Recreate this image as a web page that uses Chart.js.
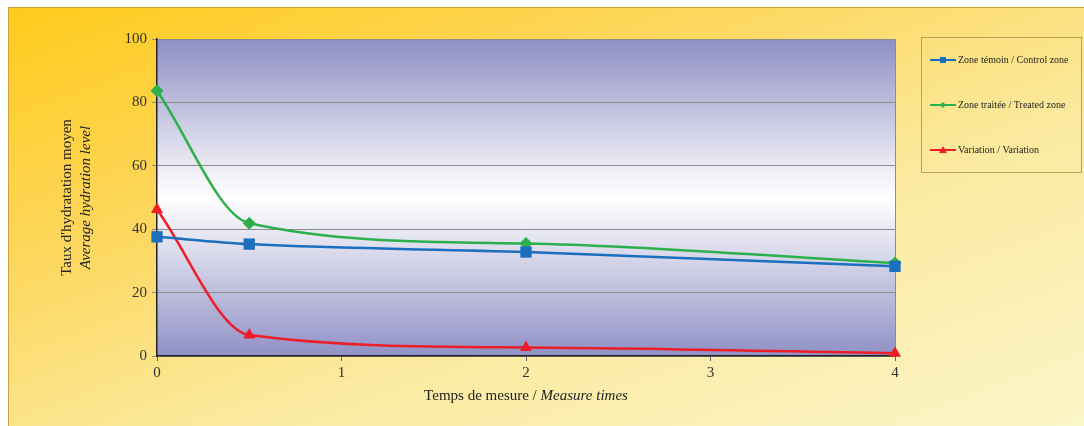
<!DOCTYPE html>
<html>
<head>
<meta charset="utf-8">
<script src="https://cdn.jsdelivr.net/npm/chart.js@4.4.1/dist/chart.umd.min.js"></script>
<style>
  html, body { margin: 0; padding: 0; background: #fff; }
  #cadre {
    position: absolute; left: 8px; top: 7px; width: 1076px; height: 419px;
    border-left: 1px solid #c9a43c; border-top: 1px solid #c9a43c;
    box-sizing: border-box;
    background: linear-gradient(160deg, #ffcb1c 0%, #fdd659 30%, #fbeaa0 62%, #fbf6c8 100%);
  }
  #zone { position: absolute; left: 0; top: 0; width: 1084px; height: 426px; }
</style>
</head>
<body>
<div id="cadre"></div>
<div id="zone"><canvas id="graficoHydratation" width="1084" height="426"></canvas></div>
<script>
// Données
const temps = [0, 0.5, 2, 4];
const zoneTemoin = [37.6, 35.3, 32.8, 28.3];
const zoneTraitee = [83.7, 41.9, 35.5, 29.3];
const variation = [46.2, 6.6, 2.7, 0.9];
const ticksY = [0, 20, 40, 60, 80, 100];
const ticksX = [0, 1, 2, 3, 4];

const libelles = ['Zone témoin / Control zone', 'Zone traitée / Treated zone', 'Variation / Variation'];
const couleurs = ['#1b6fbe', '#2bb04c', '#ee1d26'];
const formes = ['rect', 'rectRot', 'triangle'];

function points(valeurs) {
  return temps.map((t, i) => ({ x: t, y: valeurs[i] }));
}

const POLICE = '"Liberation Serif", "DejaVu Serif", serif';

// Fond dégradé de la zone de tracé
const fondZone = {
  id: 'fondZone',
  beforeDraw(chart) {
    const { ctx, chartArea: a } = chart;
    const g = ctx.createLinearGradient(0, a.top, 0, a.bottom);
    g.addColorStop(0, '#8e8fc4');
    g.addColorStop(0.38, '#e6e6f2');
    g.addColorStop(0.5, '#ffffff');
    g.addColorStop(0.62, '#e6e6f2');
    g.addColorStop(1, '#9091c6');
    ctx.save();
    ctx.fillStyle = g;
    ctx.fillRect(a.left, a.top, a.right - a.left, a.bottom - a.top);
    ctx.strokeStyle = '#8c8c8c';
    ctx.lineWidth = 1;
    ctx.beginPath();
    ctx.moveTo(a.left, a.top + 0.5);
    ctx.lineTo(a.right + 0.5, a.top + 0.5);
    ctx.lineTo(a.right + 0.5, a.bottom);
    ctx.stroke();
    ctx.restore();
  }
};

// Titres des axes (mélange romain / italique) et légende encadrée
const titresEtLegende = {
  id: 'titresEtLegende',
  afterDraw(chart) {
    const { ctx, chartArea: a } = chart;
    ctx.save();
    ctx.fillStyle = '#222';
    ctx.textBaseline = 'middle';

    // titre axe X
    const p1 = 'Temps de mesure / ';
    const p2 = 'Measure times';
    ctx.font = '15px ' + POLICE;
    const w1 = ctx.measureText(p1).width;
    ctx.font = 'italic 15px ' + POLICE;
    const w2 = ctx.measureText(p2).width;
    let x0 = (a.left + a.right) / 2 - (w1 + w2) / 2;
    ctx.textAlign = 'left';
    ctx.font = '15px ' + POLICE;
    ctx.fillText(p1, x0, 396);
    ctx.font = 'italic 15px ' + POLICE;
    ctx.fillText(p2, x0 + w1, 396);

    // titre axe Y
    const cy = (a.top + a.bottom) / 2;
    ctx.translate(0, cy);
    ctx.rotate(-Math.PI / 2);
    ctx.textAlign = 'center';
    ctx.font = '15px ' + POLICE;
    ctx.fillText("Taux d'hydratation moyen", 0, 67);
    ctx.font = 'italic 15px ' + POLICE;
    ctx.fillText('Average hydration level', 0, 86);
    ctx.setTransform(1, 0, 0, 1, 0, 0);

    // légende
    ctx.strokeStyle = '#b9a25a';
    ctx.lineWidth = 1;
    ctx.strokeRect(921.5, 37.5, 160, 135);
    const ys = [60, 105, 150];
    chart.data.datasets.forEach((ds, i) => {
      const y = ys[i];
      ctx.strokeStyle = ds.borderColor;
      ctx.lineWidth = 2;
      ctx.beginPath();
      ctx.moveTo(930, y);
      ctx.lineTo(956, y);
      ctx.stroke();
      ctx.fillStyle = ds.borderColor;
      ctx.beginPath();
      if (i === 0) {
        ctx.rect(940, y - 3, 6, 6);
      } else if (i === 1) {
        ctx.moveTo(943, y - 3); ctx.lineTo(946, y); ctx.lineTo(943, y + 3); ctx.lineTo(940, y);
      } else {
        ctx.moveTo(943, y - 4); ctx.lineTo(947, y + 3); ctx.lineTo(939, y + 3);
      }
      ctx.closePath();
      ctx.fill();
      ctx.fillStyle = '#222';
      ctx.font = '10px ' + POLICE;
      ctx.textAlign = 'left';
      ctx.fillText(ds.label, 958, y + 0.5);
    });
    ctx.restore();
  }
};

const series = [zoneTemoin, zoneTraitee, variation];

new Chart(document.getElementById('graficoHydratation').getContext('2d'), {
  type: 'line',
  data: {
    datasets: series.map((valeurs, i) => ({
      label: libelles[i],
      data: points(valeurs),
      borderColor: couleurs[i],
      backgroundColor: couleurs[i],
      borderWidth: 2.5,
      cubicInterpolationMode: 'monotone',
      pointStyle: formes[i],
      pointRadius: [8, 6.5, 7][i],
      pointBorderWidth: 0,
      clip: false
    }))
  },
  options: {
    responsive: false,
    animation: false,
    layout: { padding: { top: 39, right: 189, left: 0, bottom: 0 } },
    plugins: {
      legend: { display: false },
      tooltip: { enabled: false }
    },
    scales: {
      x: {
        type: 'linear',
        min: 0,
        max: 4,
        afterFit(scale) { scale.height = 70; },
        afterBuildTicks(scale) { scale.ticks = ticksX.map(v => ({ value: v })); },
        grid: { drawOnChartArea: false, drawTicks: true, tickLength: 5, color: '#666' },
        border: { color: '#222', width: 1.5 },
        ticks: { font: { family: POLICE, size: 15 }, color: '#333', padding: 3 }
      },
      y: {
        min: 0,
        max: 100,
        afterFit(scale) { scale.width = 157; },
        afterBuildTicks(scale) { scale.ticks = ticksY.map(v => ({ value: v })); },
        grid: { color: '#8c8c8c', tickLength: 5, drawTicks: true },
        border: { color: '#222', width: 1.5 },
        ticks: { font: { family: POLICE, size: 15 }, color: '#333', padding: 5 }
      }
    }
  },
  plugins: [fondZone, titresEtLegende]
});
</script>
</body>
</html>
